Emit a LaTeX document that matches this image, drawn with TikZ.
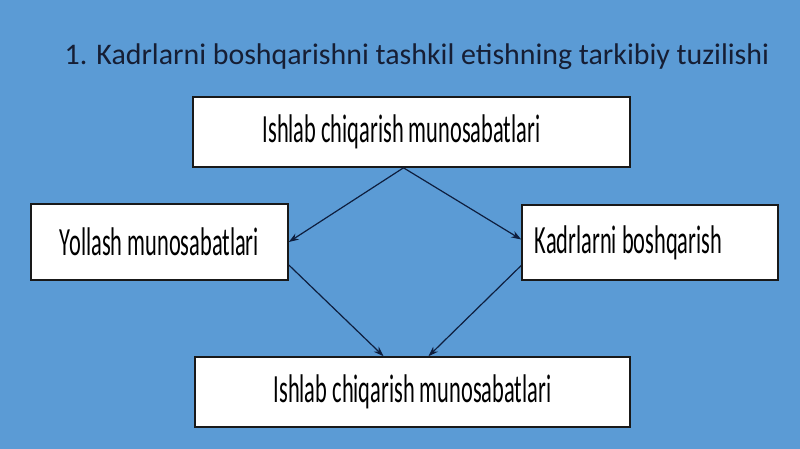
\documentclass[tikz,border=0pt]{standalone}
\usepackage{fontspec}
\setmainfont{Carlito}
\newfontfamily\narrowfont[FakeStretch=0.56]{Carlito}
\usetikzlibrary{arrows.meta}

\definecolor{slidebg}{RGB}{91,155,213}
\definecolor{titleink}{RGB}{22,30,52}
\definecolor{arrowink}{RGB}{14,30,62}

\tikzset{
  unit/.style={draw=black!90, line width=1.6pt, fill=white, inner sep=0pt,
    font=\narrowfont\fontsize{40}{42}\selectfont},
  link/.style={draw=arrowink, line width=1.2pt, -{Stealth[length=10pt,width=7pt]}}
}

\begin{document}
\begin{tikzpicture}[x=1pt,y=-1pt]
\fill [slidebg] (0,0) rectangle (800,449);
\useasboundingbox (0,0) rectangle (800,449);
\node (title) [text=titleink, font=\fontsize{29.9}{32}\selectfont] at (417,57)
  {1. Kadrlarni boshqarishni tashkil etishning tarkibiy tuzilishi};
% boxes
\node (ishlab) [unit, minimum width=437pt, minimum height=70pt] at (411.5,132)
  {Ishlab chiqarish munosabatlari\hspace*{20pt}};
\node (yollash) [unit, minimum width=257pt, minimum height=76pt] at (159.5,242)
  {Yollash munosabatlari};
\node (kadr) [unit, minimum width=256pt, minimum height=75pt] at (650,242.5)
  {Kadrlarni boshqarish\hspace*{43pt}};
\node (natija) [unit, minimum width=435pt, minimum height=70pt] at (412.5,392)
  {Ishlab chiqarish munosabatlari};
% arrows
\draw [link] ([xshift=-8pt]ishlab.south) -- (yollash.east);
\draw [link] ([xshift=-8pt]ishlab.south) -- ([yshift=3pt]kadr.west);
\draw [link] ([yshift=-23pt]yollash.east) -- ([xshift=-29pt]natija.north);
\draw [link] ([yshift=-23pt]kadr.west) -- ([xshift=16pt]natija.north);
\end{tikzpicture}
\end{document}
